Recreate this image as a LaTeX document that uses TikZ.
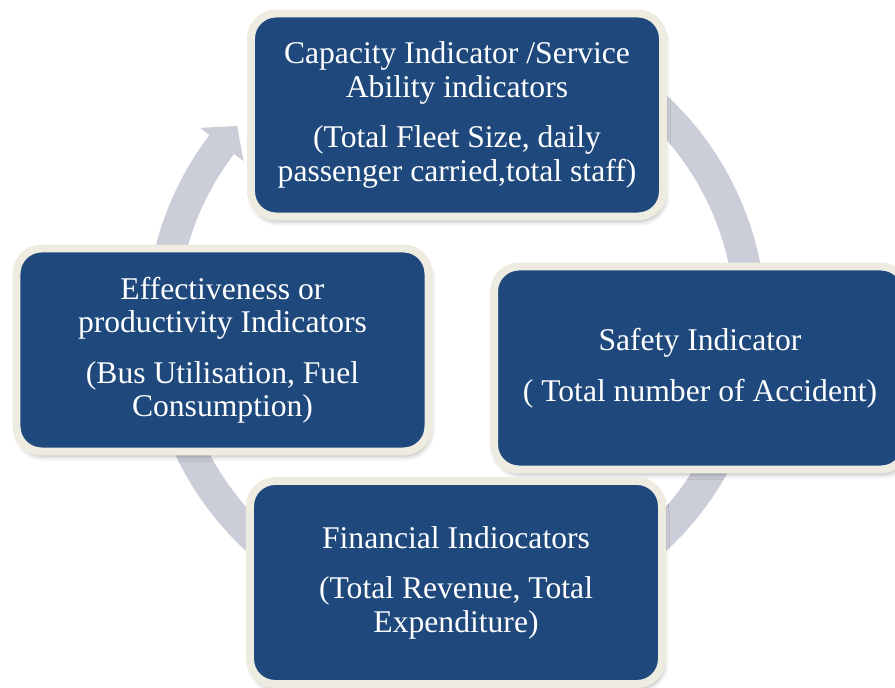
\documentclass[tikz,border=0pt]{standalone}
\usepackage{fontspec}
\setmainfont{Liberation Serif}
\usetikzlibrary{shadows.blur}
\definecolor{boxblue}{RGB}{31,73,125}
\definecolor{boxrim}{RGB}{238,236,225}
\definecolor{ringgray}{RGB}{203,205,216}

\begin{document}
\begin{tikzpicture}[x=0.02cm,y=0.02cm]
  \tikzstyle{indicator}=[rectangle, rounded corners=0.5cm, fill=boxblue,
    draw=boxrim, line width=4.5pt, minimum width=8.24cm, minimum height=4.06cm,
    text=white, align=center, font=\fontsize{18}{18.9}\selectfont,
    blur shadow={shadow xshift=1pt, shadow yshift=-2.5pt,
                 shadow blur radius=3pt, shadow opacity=35}]
  \clip (0,0) rectangle (895,688);
  % grey ring behind the boxes, head pointing clockwise
  \begin{scope}[shift={(456,365)}]
    \fill[ringgray] (70:310) arc[start angle=70, end angle=-217.3, radius=310]
      -- (-217.3:322) -- (-222:294.5) -- (-217.3:267) -- (-217.3:279)
      arc[start angle=-217.3, end angle=70, radius=279] -- cycle;
  \end{scope}
  \node[indicator] (cap) at (457,573) {Capacity Indicator /Service\\
    Ability indicators\\[10pt] (Total Fleet Size, daily\\
    passenger carried,total staff)};
  \node[indicator] (safe) at (700,320) {Safety Indicator\\[10pt]
    ( Total number of Accident)};
  \node[indicator] (fin) at (456,105.5) {Financial Indiocators\\[10pt]
    (Total Revenue, Total\\ Expenditure)};
  \node[indicator] (eff) at (222.5,338) {Effectiveness or\\
    productivity Indicators\\[10pt] (Bus Utilisation, Fuel\\ Consumption)};
\end{tikzpicture}
\end{document}
